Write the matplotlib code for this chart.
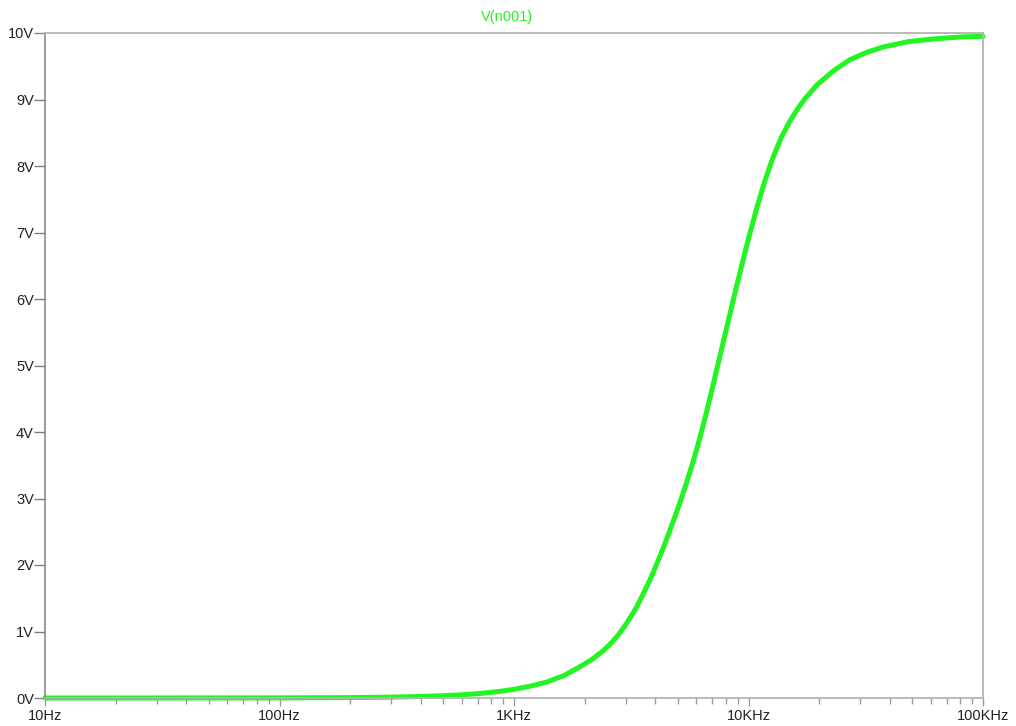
import numpy as np
import matplotlib
matplotlib.use("Agg")
import matplotlib.pyplot as plt
from matplotlib.ticker import FixedLocator, LogLocator, NullFormatter

plt.rcParams['font.family'] = ['Liberation Sans', 'DejaVu Sans']

## DATA ##
freq = [10, 30, 100, 200, 300, 400, 500, 600, 716, 850, 1000, 1180, 1380, 1640, 1910,
        2150, 2400, 2620, 2800, 3030, 3300, 3550, 3850, 4200, 4600, 5000, 5400, 5800,
        6200, 6600, 7000, 7410, 7800, 8340, 9020, 9950, 10870, 11700, 12720, 13800,
        15030, 16200, 17400, 19600, 23000, 27100, 32000, 37500, 48000, 61200, 80000,
        100000]
volts = [0.0, 0.0, 0.002, 0.006, 0.013, 0.023, 0.034, 0.048, 0.068, 0.095, 0.13,
         0.18, 0.24, 0.34, 0.47, 0.58, 0.71, 0.84, 0.96, 1.13, 1.34, 1.56, 1.82, 2.14,
         2.50, 2.85, 3.20, 3.55, 3.91, 4.28, 4.65, 5.02, 5.35, 5.78, 6.28, 6.88, 7.38,
         7.76, 8.13, 8.43, 8.68, 8.86, 9.01, 9.22, 9.43, 9.60, 9.71, 9.79, 9.87, 9.91,
         9.94, 9.95]

xticks = [10, 100, 1000, 10000, 100000]
xlabels = ['10Hz', '100Hz', '1KHz', '10KHz', '100KHz']
yticks = list(range(0, 11))
ylabels = ['{}V'.format(v) for v in yticks]

green = '#22f522'

fig = plt.figure(figsize=(10.16, 7.26), dpi=100)
ax = fig.add_axes([45/1016, 1-698/726, (983-45)/1016, (698-33)/726])

ax.plot(freq, volts, color=green, lw=3.6, solid_capstyle='round', solid_joinstyle='round', clip_on=False)

ax.set_xscale('log')
ax.set_xlim(10, 100000)
ax.set_ylim(0, 10)

ax.xaxis.set_major_locator(FixedLocator(xticks))
ax.set_xticklabels(xlabels)
ax.xaxis.set_minor_locator(LogLocator(base=10, subs=np.arange(2, 10)))
ax.xaxis.set_minor_formatter(NullFormatter())
ax.set_yticks(yticks)
ax.set_yticklabels(ylabels)

ax.tick_params(axis='x', which='major', direction='out', length=6, width=1, color='#9a9a9a',
               labelsize=10.5, labelcolor='#222222', pad=2)
ax.tick_params(axis='x', which='minor', direction='out', length=4, width=1, color='#9a9a9a')
ax.tick_params(axis='y', direction='out', length=8, width=1, color='#808080',
               labelsize=10.5, labelcolor='#222222', pad=0)

for side in ['top', 'right', 'bottom']:
    ax.spines[side].set_color('#b4b4b4')
    ax.spines[side].set_linewidth(1.3)
ax.spines['left'].set_color('#808080')
ax.spines['left'].set_linewidth(1.1)

fig.text(507/1016, 1-17/726, 'V(n001)', color=green, fontsize=10.5, ha='center', va='center')

plt.savefig('out.png', dpi=100)
